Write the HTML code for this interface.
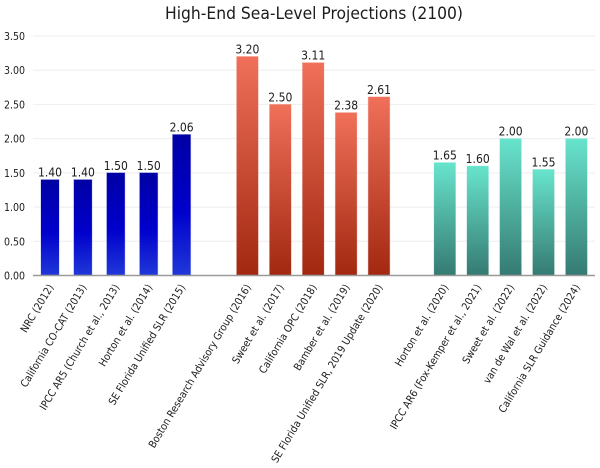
<!DOCTYPE html>
<html>
<head>
<meta charset="utf-8">
<style>
html,body{margin:0;padding:0;background:#fff;width:600px;height:468px;overflow:hidden}
svg{display:block}
text{font-family:"DejaVu Sans Condensed","DejaVu Sans","Liberation Sans",sans-serif;fill:#1c1c1c}
</style>
</head>
<body>
<svg id="chart" width="600" height="468" viewBox="0 0 600 468" xmlns="http://www.w3.org/2000/svg">
<defs>
<linearGradient id="grad-blue" x1="0" y1="0" x2="0" y2="1">
<stop offset="0" stop-color="#0000a4"/><stop offset="0.55" stop-color="#0000cc"/><stop offset="1" stop-color="#2038d8"/>
</linearGradient>
<linearGradient id="grad-red" x1="0" y1="0" x2="0" y2="1">
<stop offset="0" stop-color="#f0705a"/><stop offset="1" stop-color="#a22810"/>
</linearGradient>
<linearGradient id="grad-teal" x1="0" y1="0" x2="0" y2="1">
<stop offset="0" stop-color="#68e4cc"/><stop offset="1" stop-color="#357a72"/>
</linearGradient>
</defs>
<text x="314" y="19" text-anchor="middle" font-size="17.3">High-End Sea-Level Projections (2100)</text>
<g id="grid"></g>
<g id="bars"></g>
<g id="axis"></g>
</svg>
<script>
var categories = ["NRC (2012)","California CO-CAT (2013)","IPCC AR5 (Church et al., 2013)","Horton et al. (2014)","SE Florida Unified SLR (2015)","","Boston Research Advisory Group (2016)","Sweet et al. (2017)","California OPC (2018)","Bamber et al. (2019)","SE Florida Unified SLR, 2019 Update (2020)","","Horton et al. (2020)","IPCC AR6 (Fox-Kemper et al., 2021)","Sweet et al. (2022)","van de Wal et al. (2022)","California SLR Guidance (2024)"];
var values = [1.40,1.40,1.50,1.50,2.06,null,3.20,2.50,3.11,2.38,2.61,null,1.65,1.60,2.00,1.55,2.00];
var valueLabels = ["1.40","1.40","1.50","1.50","2.06","","3.20","2.50","3.11","2.38","2.61","","1.65","1.60","2.00","1.55","2.00"];
var groups = ["blue","blue","blue","blue","blue","","red","red","red","red","red","","teal","teal","teal","teal","teal"];
var yTicks = [0,0.5,1,1.5,2,2.5,3,3.5];
var yTickLabels = ["0.00","0.50","1.00","1.50","2.00","2.50","3.00","3.50"];

var NS = "http://www.w3.org/2000/svg";
function y(v){ return 275.5 - v * 68.43; }
function x(i){ return 50 + i * 32.9; }
function barWidth(g){ return g === "blue" ? 18 : 21.5; }
function make(tag, parent){
  var el = document.createElementNS(NS, tag);
  parent.appendChild(el);
  return el;
}
var gridG = document.getElementById("grid");
var barsG = document.getElementById("bars");
var axisG = document.getElementById("axis");

yTicks.forEach(function(t, i){
  if (t !== 0) {
    var ln = make("line", gridG);
    
    
    ln.setAttribute("x1", 33); ln.setAttribute("x2", 595);
    ln.setAttribute("y1", y(t)); ln.setAttribute("y2", y(t));
    ln.setAttribute("stroke", "#eeeeee"); ln.setAttribute("stroke-width", 1);
  }
  var tx = make("text", axisG);
  
  
  tx.setAttribute("x", 25); tx.setAttribute("y", y(t) + 4);
  tx.setAttribute("text-anchor", "end");
  tx.setAttribute("font-size", "10.5");
  tx.textContent = yTickLabels[i];
});

categories.forEach(function(c, i){
  if (values[i] === null) return;
  var w = barWidth(groups[i]);
  var r = make("rect", barsG);
  
  
  r.setAttribute("x", x(i) - w / 2);
  r.setAttribute("y", y(values[i]));
  r.setAttribute("width", w);
  r.setAttribute("height", y(0) - y(values[i]));
  r.setAttribute("fill", "url(#grad-" + groups[i] + ")");
  r.setAttribute("stroke", "url(#grad-" + groups[i] + ")");
  r.setAttribute("stroke-opacity", "0.25");
  r.setAttribute("stroke-width", "1");

  var v = make("text", barsG);
  
  
  v.setAttribute("x", x(i));
  v.setAttribute("y", y(values[i]) - 3);
  v.setAttribute("text-anchor", "middle");
  v.setAttribute("font-size", "12");
  v.textContent = valueLabels[i];

  var l = make("text", axisG);
  
  
  l.setAttribute("text-anchor", "end");
  l.setAttribute("font-size", "10.5");
  l.setAttribute("transform", "translate(" + (x(i) + 4) + ",287) rotate(-59)");
  l.textContent = c;
});

var ax = make("line", axisG);


ax.setAttribute("x1", 33); ax.setAttribute("x2", 595);
ax.setAttribute("y1", y(0)); ax.setAttribute("y2", y(0));
ax.setAttribute("stroke", "#9a9a9a"); ax.setAttribute("stroke-width", 1.5);
</script>
</body>
</html>
